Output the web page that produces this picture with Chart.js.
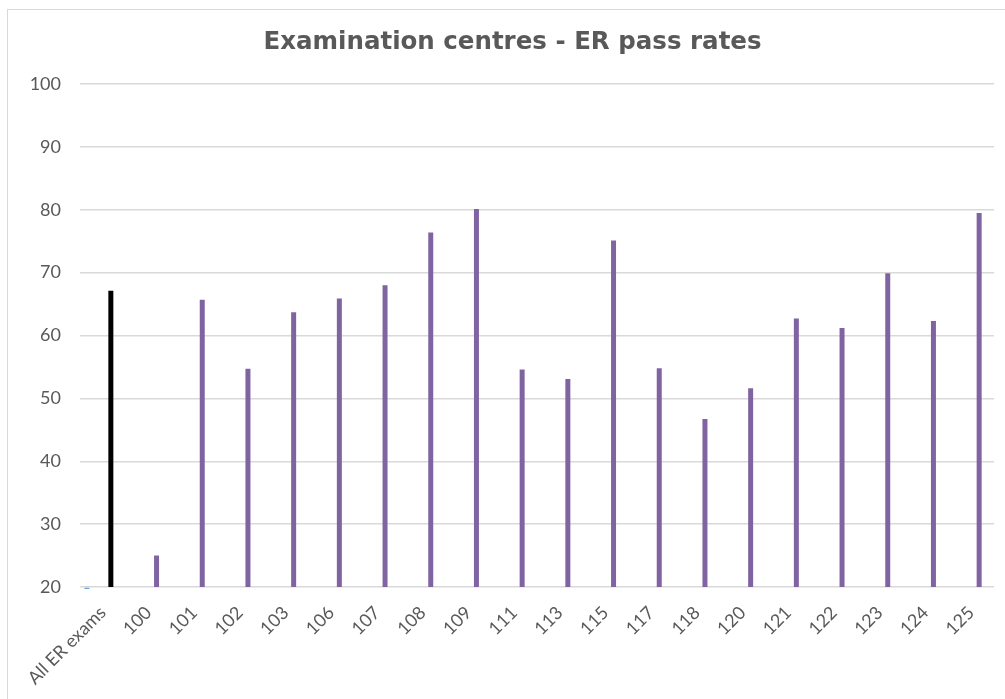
<!DOCTYPE html>
<html>
<head>
<meta charset="utf-8">
<title>Examination centres - ER pass rates</title>
<script src="https://cdn.jsdelivr.net/npm/chart.js@4/dist/chart.umd.min.js"></script>
<style>
  html, body { margin: 0; padding: 0; background: #ffffff; overflow: hidden; }
  #frame { position: absolute; left: 7px; top: 9px; width: 1200px; height: 900px;
           border-left: 1px solid #d9d9d9; border-top: 1px solid #d9d9d9; }
  #wrap { position: absolute; left: 0; top: 0; width: 1005px; height: 699px; }
</style>
</head>
<body>
<div id="frame"></div>
<div id="wrap"><canvas id="chart" width="1005" height="699"></canvas></div>
<script>
// Centres and their ER pass rates (%)
const categories = ['All ER exams', '100', '101', '102', '103', '106', '107', '108', '109', '111',
                    '113', '115', '117', '118', '120', '121', '122', '123', '124', '125'];
const passRates = [67.1, 25.0, 65.7, 54.7, 63.7, 65.9, 68.0, 76.4, 80.1, 54.6,
                   53.1, 75.1, 54.8, 46.7, 51.6, 62.7, 61.2, 69.9, 62.3, 79.5];
// Secondary series: only the overall entry carries a value, just under the axis minimum
const otherSeries = [19.7, null, null, null, null, null, null, null, null, null,
                     null, null, null, null, null, null, null, null, null, null];
const emptySeries = categories.map(() => null);
const yTicks = { min: 20, max: 100, step: 10 };

const PURPLE = '#8064a2';
const BLACK = '#000000';
const BLUE = '#5b9bd5';
const TEXT = '#595959';
const GRID = '#d9d9d9';

const barColors = categories.map((c, i) => i === 0 ? BLACK : PURPLE);

const common = { barPercentage: 0.625, categoryPercentage: 0.875 };

new Chart(document.getElementById('chart'), {
  type: 'bar',
  data: {
    labels: categories,
    datasets: [
      Object.assign({ label: 'Series 1', data: otherSeries, backgroundColor: BLUE,
                      base: yTicks.min, clip: false, inflateAmount: 0 }, common),
      Object.assign({ label: 'Series 2', data: emptySeries }, common),
      Object.assign({ label: 'Series 3', data: emptySeries }, common),
      Object.assign({ label: 'Pass rate', data: passRates, backgroundColor: barColors }, common),
      Object.assign({ label: 'Series 5', data: emptySeries }, common)
    ]
  },
  options: {
    responsive: false,
    animation: false,
    layout: { padding: { left: 31, right: 11, top: 0, bottom: 0 } },
    plugins: {
      legend: { display: false },
      tooltip: { enabled: false },
      title: {
        display: true,
        text: 'Examination centres - ER pass rates',
        color: TEXT,
        font: { family: 'DejaVu Sans', size: 24.5, weight: 'bold' },
        padding: { top: 28, bottom: 26.6 }
      }
    },
    scales: {
      x: {
        grid: { display: false, drawTicks: false },
        border: { display: false },
        ticks: {
          color: TEXT,
          font: { family: 'Lato', size: 18 },
          maxRotation: 45,
          minRotation: 45,
          autoSkip: false,
          padding: 15
        },
        afterFit: s => { s.height = 112; }
      },
      y: {
        min: yTicks.min,
        max: yTicks.max,
        grid: { color: GRID, lineWidth: 1.5, drawTicks: false },
        border: { display: false },
        ticks: {
          stepSize: yTicks.step,
          color: TEXT,
          font: { family: 'Lato', size: 18 },
          padding: 19
        },
        afterFit: s => { s.width = 49; }
      }
    }
  }
});
</script>
</body>
</html>
